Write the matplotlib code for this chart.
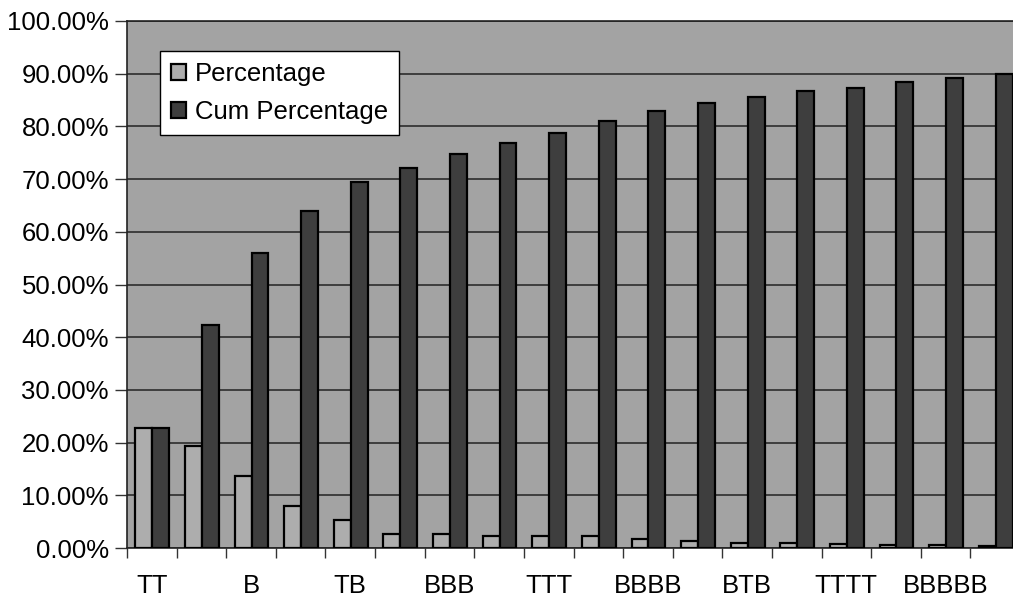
import matplotlib
matplotlib.use("Agg")
import matplotlib.pyplot as plt
import numpy as np
from matplotlib.ticker import FuncFormatter, FixedLocator

plt.rcParams['font.family'] = ['Liberation Sans', 'DejaVu Sans']

# Tick labels (only every other category is labelled in the source)
tick_labels = ["TT", "", "B", "", "TB", "", "BBB", "", "TTT", "",
               "BBBB", "", "BTB", "", "TTTT", "", "BBBBB", ""]

percentage = [22.7, 19.4, 13.7, 8.0, 5.3, 2.7, 2.7, 2.3, 2.2, 2.2,
              1.8, 1.4, 1.0, 0.9, 0.8, 0.5, 0.5, 0.4]
cum_percentage = [22.7, 42.3, 55.9, 63.9, 69.5, 72.2, 74.8, 76.9, 78.8, 81.1,
                  82.9, 84.4, 85.5, 86.7, 87.3, 88.5, 89.1, 90.0]

W, H = 1013, 602
fig = plt.figure(figsize=(W / 100, H / 100), dpi=100)
left, right, top, bottom = 127, 1020, 21, 548
ax = fig.add_axes([left / W, 1 - bottom / H, (right - left) / W, (bottom - top) / H])

bg = "#a3a3a3"
ax.set_facecolor(bg)

x = np.arange(len(tick_labels))
bw = 0.34
ax.bar(x - 0.16, percentage, width=bw, color="#adadad", edgecolor="black",
       linewidth=1.6, label="Percentage", zorder=3)
ax.bar(x + 0.18, cum_percentage, width=bw, color="#3e3e3e", edgecolor="black",
       linewidth=1.6, label="Cum Percentage", zorder=3)

ax.set_xlim(-0.5, len(tick_labels) - 0.5)
ax.set_ylim(0, 100)
ax.yaxis.set_major_locator(FixedLocator(np.arange(0, 101, 10)))
ax.yaxis.set_major_formatter(FuncFormatter(lambda v, p: f"{v:.2f}%"))
ax.grid(axis="y", color="#222222", linewidth=1.1, zorder=1)
ax.set_axisbelow(True)

# category boundary ticks on x
ax.set_xticks(np.arange(len(tick_labels) + 1) - 0.5, minor=False)
ax.set_xticklabels([])
ax.set_xticks(x, minor=True)
ax.set_xticklabels(tick_labels, minor=True)
ax.tick_params(axis="x", which="major", length=7, width=1, direction="out", color="#333333")
ax.tick_params(axis="x", which="minor", length=0, pad=19, labelsize=18.5)
ax.tick_params(axis="y", length=9, width=1, direction="out", pad=4, labelsize=18.5, color="#333333")

for s in ["top", "left", "bottom"]:
    ax.spines[s].set_color("#222222")
    ax.spines[s].set_linewidth(1.2)
ax.spines["right"].set_visible(False)

leg = ax.legend(loc="upper left", bbox_to_anchor=((160 - left) / (right - left), 1 - (51 - top) / (bottom - top)),
                fontsize=18.5, frameon=True, fancybox=False, shadow=False,
                handlelength=0.6, handleheight=0.6, handletextpad=0.35,
                borderpad=0.42, labelspacing=0.55, borderaxespad=0)
leg.get_frame().set_edgecolor("black")
leg.get_frame().set_linewidth(1.0)
leg.get_frame().set_facecolor("white")
leg.get_frame().set_alpha(1)

fig.savefig("out.png", dpi=100, facecolor="white")
